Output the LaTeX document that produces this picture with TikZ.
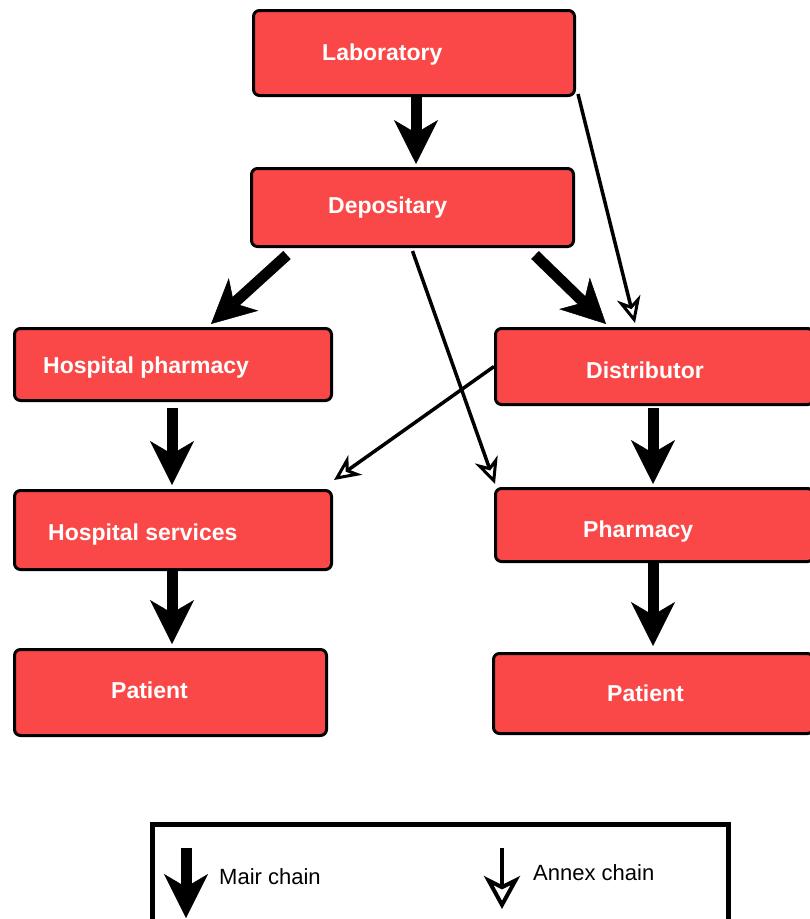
\documentclass[tikz,border=0pt]{standalone}
\usepackage{fontspec}
\setmainfont{Liberation Sans}
\usetikzlibrary{arrows.meta}
\definecolor{boxred}{RGB}{250,72,72}
\begin{document}
\begin{tikzpicture}[x=1pt,y=-1pt,
  box/.style={draw=black,line width=3pt,fill=boxred,rounded corners=6pt,inner sep=0pt},
  boxtext/.style={anchor=base west,inner sep=0pt,text=white,font=\fontsize{23}{27}\selectfont\bfseries},
  legendtext/.style={anchor=base west,inner sep=0pt,font=\fontsize{22}{26}\selectfont},
  mainarrow/.style={line width=11pt,-{Stealth[length=44pt,width=44pt,inset=13pt,line width=0.5pt]}},
  annexarrow/.style={line width=3.5pt,-{Stealth[open,length=26pt,width=24pt,inset=8pt,line width=3pt]}}]
\useasboundingbox (0,0) rectangle (810,919);

% boxes of the supply chain
\node[box,minimum width=321pt,minimum height=85pt] (lab)  at (414,53)      {};
\node[box,minimum width=322pt,minimum height=78pt] (dep)  at (412.5,207.5) {};
\node[box,minimum width=317pt,minimum height=72pt] (hp)   at (173,364.5)   {};
\node[box,minimum width=318pt,minimum height=76pt] (dist) at (654.5,366.5) {};
\node[box,minimum width=317pt,minimum height=79pt] (hs)   at (173,530)     {};
\node[box,minimum width=318pt,minimum height=73pt] (ph)   at (654.5,525)   {};
\node[box,minimum width=312pt,minimum height=86pt] (pl)   at (170.5,692.5) {};
\node[box,minimum width=320pt,minimum height=80pt] (pr)   at (653.5,693.5) {};

% box labels
\node[boxtext] (lab-t)  at (322,60)  {Laboratory};
\node[boxtext] (dep-t)  at (328,213) {Depositary};
\node[boxtext] (hp-t)   at (43,373)  {Hospital pharmacy};
\node[boxtext] (dist-t) at (586,378) {Distributor};
\node[boxtext] (hs-t)   at (48,540)  {Hospital services};
\node[boxtext] (ph-t)   at (583,537) {Pharmacy};
\node[boxtext] (pl-t)   at (111,698) {Patient};
\node[boxtext] (pr-t)   at (607,701) {Patient};

% main chain
\draw[mainarrow] ([shift={(2,0)}]lab.south) -- ([shift={(3.5,-3)}]dep.north);
\draw[mainarrow] ([shift={(37,7)}]dep.south west) -- ([shift={(198,-3)}]hp.north west);
\draw[mainarrow] ([shift={(-40,7)}]dep.south east) -- ([shift={(112,-3)}]dist.north west);
\draw[mainarrow] ([shift={(-1,6)}]hp.south) -- ([shift={(-1,-4)}]hs.north);
\draw[mainarrow] ([shift={(-1.5,2)}]dist.south) -- ([shift={(-1.5,-3)}]ph.north);
\draw[mainarrow] ([shift={(-1,0)}]hs.south) -- ([shift={(1.5,-4)}]pl.north);
\draw[mainarrow] ([shift={(-1.5,0)}]ph.south) -- ([shift={(-0.5,-6)}]pr.north);

% annex chain
\draw[annexarrow] ([shift={(2,-3)}]lab.south east) -- ([shift={(141,-4)}]dist.north west);
\draw[annexarrow] ([shift={(0,3)}]dep.south) -- ([shift={(1,-3)}]ph.north west);
\draw[annexarrow] (dist.west) -- ([shift={(1,-9)}]hs.north east);

% legend
\node[draw=black,line width=4.5pt,fill=white,minimum width=576pt,minimum height=113pt,inner sep=0pt] (legend) at (440.5,881) {};
\coordinate (lm-top) at (186,848);
\coordinate (lm-tip) at (186,918);
\draw[mainarrow] (lm-top) -- (lm-tip);
\node[legendtext] (lm-t) at (219,884) {Mair chain};
\coordinate (la-top) at (502,848);
\coordinate (la-tip) at (502,909);
\draw[line width=3.5pt,-{Stealth[open,length=33pt,width=36pt,inset=9pt,line width=4pt]}] (la-top) -- (la-tip);
\node[legendtext] (la-t) at (533,880) {Annex chain};
\end{tikzpicture}
\end{document}
